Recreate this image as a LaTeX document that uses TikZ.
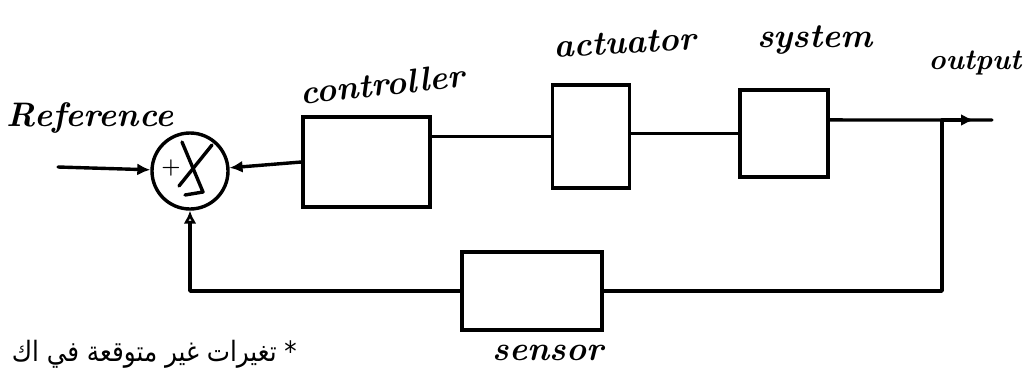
\documentclass[tikz,border=0pt]{standalone}
\usepackage{fontspec}
\newfontfamily\arabicfont[Script=Arabic]{DejaVu Sans}
\TeXXeTstate=1
\usetikzlibrary{arrows.meta,calc}
\begin{document}
\begin{tikzpicture}[x=1pt,y=-1pt,
  wire/.style={line width=3.4pt,line cap=round,line join=round},
  block/.style={draw,line width=3.4pt,rectangle,inner sep=0pt},
  label/.style={font=\fontsize{34}{38}\selectfont\bfseries\itshape,inner sep=0pt},
  tip/.style={-{Latex[length=13pt,width=12pt]}},
  opentip/.style={-{Latex[open,length=13pt,width=13pt]}}]
\useasboundingbox[fill=white] (0,0) rectangle (1030,381);

% summing junction
\node[draw,circle,line width=3.4pt,minimum size=76pt,inner sep=0pt] (sum) at (190,171) {};
\draw[wire] (182,142) -- (203,192) -- (185,195);
\draw[wire] (212,145) -- (179,186);
\node[font=\fontsize{22}{22}\selectfont\bfseries,inner sep=0pt] (plus) at (171,168) {+};

% blocks
\node[block,minimum width=127pt,minimum height=90pt] (ctrl) at (366.5,162) {};
\node[block,minimum width=77pt,minimum height=103pt] (act) at (591,136.5) {};
\node[block,minimum width=88pt,minimum height=87pt] (sys) at (784,133.5) {};
\node[block,minimum width=140pt,minimum height=78pt] (sens) at (532,291) {};

% labels
\node[label] (lref) at (90,118) {Reference};
\node[label,rotate=6] (lctrl) at (382,84) {controller};
\node[label,rotate=3] (lact) at (625,43) {actuator};
\node[label] (lsys) at (815,40) {system};
\node[label,font=\fontsize{29}{32}\selectfont\bfseries\itshape] (lout) at (975,63) {output};
\node[label] (lsens) at (548,353) {sensor};
\node[inner sep=0pt,anchor=east,font=\fontsize{28}{32}\selectfont] (note) at (297,354)
  {\scalebox{0.88}[1]{\arabicfont\beginR * تغيرات غير متوقعة في اك\endR}};

% signal path
\coordinate (in) at (58,167);
\coordinate (br) at (942,120);
\coordinate (outtip) at (974,120);
\coordinate (outend) at (992,120);
\coordinate (sysout) at ($(sys.north east)!0.35!(sys.south east)$);
\draw[wire,tip] (in) -- (sum);
\draw[wire,tip] (ctrl.west) -- (sum);
\draw[wire] (act.west) -- (act.west -| ctrl.east);
\draw[wire] (sys.west) -- (sys.west -| act.east);
\draw[wire] (sysout) -- (outend);
\draw[wire,tip] (br) -- (outtip);

% feedback path
\draw[wire] (br) |- (sens.east);
\draw[wire,opentip] (sens.west) -| (sum.south);
\end{tikzpicture}
\end{document}
